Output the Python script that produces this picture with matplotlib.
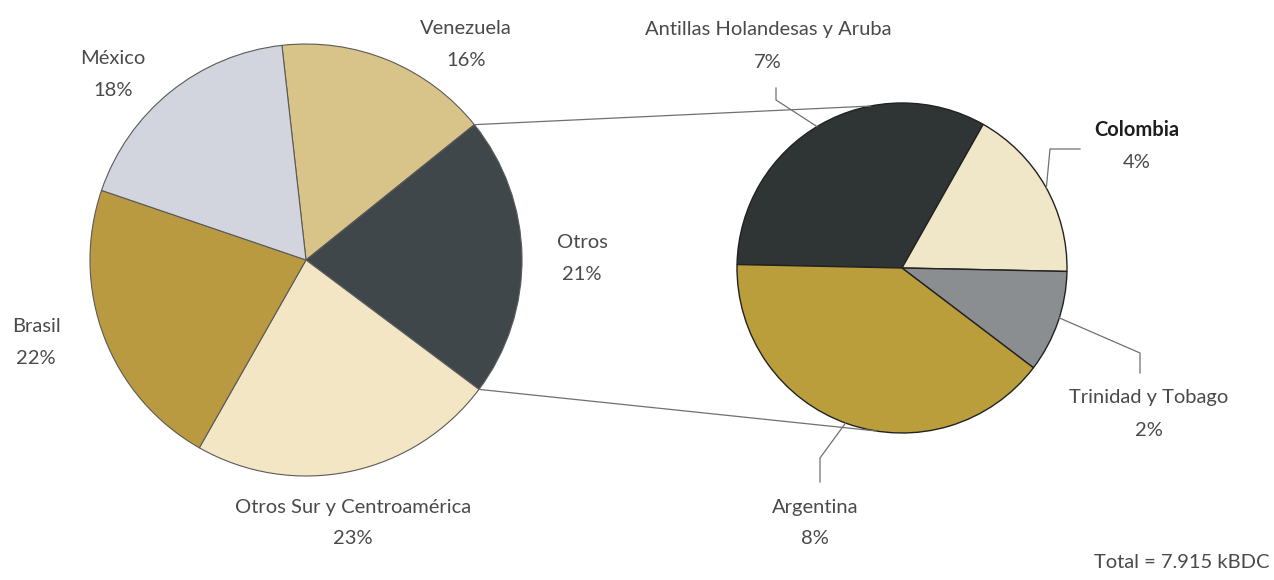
import numpy as np
import matplotlib
matplotlib.use("Agg")
import matplotlib.pyplot as plt

# ---- data ----
left_labels = ["Venezuela", "Otros", "Otros Sur y Centroamérica", "Brasil", "México"]
left_values = [16, 21, 23, 22, 18]
left_colors = ["#d8c489", "#40474a", "#f3e6c4", "#b99a40", "#d2d4de"]

right_labels = ["Antillas Holandesas y Aruba", "Colombia", "Trinidad y Tobago", "Argentina"]
right_values = [6.9, 3.6, 2.1, 8.4]
right_colors = ["#2f3534", "#f0e6c8", "#8b8e91", "#bb9e3c"]

total_text = "Total = 7.915 kBDC"

W, H = 1274, 580
fig = plt.figure(figsize=(W / 100, H / 100), dpi=100)
ax = fig.add_axes([0, 0, 1, 1])

def P(x, y):
    """pixel coords (y down) -> data coords (y up)"""
    return x, H - y

FONT = ["Lato", "DejaVu Sans"]
TXT = "#4a4a4a"
FS = 14.5

# ---- left pie ----
lc = P(306, 260)
lr = 216
l_start = 96.4
ax.pie(left_values, colors=left_colors, startangle=l_start, counterclock=False,
       center=lc, radius=lr, wedgeprops=dict(edgecolor="#5a5a5a", linewidth=0.8))

# ---- right pie ----
rc = P(902, 268)
rr = 165
r_start = 178.8
ax.pie(right_values, colors=right_colors, startangle=r_start, counterclock=False,
       center=rc, radius=rr, wedgeprops=dict(edgecolor="#222222", linewidth=1.0))

def edge(c, r, ang):
    a = np.deg2rad(ang)
    return c[0] + r * np.cos(a), c[1] + r * np.sin(a)

# connector lines from "Otros" wedge to the right pie
otros_start = l_start - left_values[0] / sum(left_values) * 360
otros_end = otros_start - left_values[1] / sum(left_values) * 360
p1 = edge(lc, lr, otros_start)
p2 = edge(rc, rr, 101)
p3 = edge(lc, lr, otros_end)
p4 = edge(rc, rr, -99)
ax.plot([p1[0], p2[0]], [p1[1], p2[1]], color="#707070", lw=0.9, zorder=5)
ax.plot([p3[0], p4[0]], [p3[1], p4[1]], color="#707070", lw=0.9, zorder=5)

# leader lines for right pie
def leader(ang, pts):
    s = edge(rc, rr, ang)
    xs = [s[0]] + [P(*p)[0] for p in pts]
    ys = [s[1]] + [P(*p)[1] for p in pts]
    ax.plot(xs, ys, color="#707070", lw=0.9, zorder=5)

leader(121, [(776, 100), (776, 88)])
leader(29, [(1050, 149), (1080, 149)])
leader(-17.6, [(1140, 353), (1140, 373)])
leader(-110, [(820, 458), (820, 482)])

# ---- labels ----
def lab(x, y, name, pct, bold=False, dy=32):
    ax.text(*P(x, y), name, ha="center", va="center", fontsize=FS,
            color="#1e1e1e" if bold else TXT,
            family=FONT, fontweight="bold" if bold else "normal")
    ax.text(*P(x, y + dy), pct, ha="center", va="center", fontsize=FS, color=TXT,
            family=FONT, fontweight="normal")

def pct(v):
    return f"{v:.0f}%"

left_pos = [(466, 28), (582, 242), (353, 507), (36, 326), (113, 58)]
for (x, y), n, v in zip(left_pos, left_labels, left_values):
    lab(x, y, n, pct(v))

right_pos = [(768, 30), (1137, 130), (1149, 398), (815, 507)]
for (x, y), n, v in zip(right_pos, right_labels, right_values):
    lab(x, y, n, pct(v), bold=(n == "Colombia"))

ax.text(*P(1270, 562), total_text, ha="right", va="center", fontsize=FS, color=TXT,
        family=FONT, fontweight="normal")

ax.set_xlim(0, W)
ax.set_ylim(0, H)
ax.set_aspect("equal")
ax.axis("off")
fig.savefig("out.png", dpi=100, facecolor="white")
